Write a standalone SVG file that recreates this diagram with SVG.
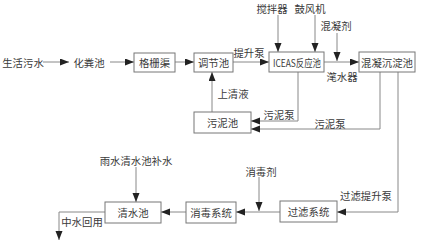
<svg xmlns="http://www.w3.org/2000/svg" width="422" height="247" viewBox="0 0 422 247">
<defs>
<style>
text{font-family:"Noto Sans CJK SC","Liberation Sans",sans-serif;font-size:10.4px;fill:#3a3a3a;text-anchor:middle;dominant-baseline:central}
.box{fill:#fff;stroke:#777;stroke-width:1}
.ln{fill:none;stroke:#888;stroke-width:1;marker-end:url(#ah)}
</style>
<marker id="ah" markerUnits="userSpaceOnUse" markerWidth="10" markerHeight="8" refX="9" refY="3.5" orient="auto">
<path d="M0,0 L9,3.5 L0,7 z" fill="#222"/>
</marker>
</defs>
<rect width="422" height="247" fill="#fff"/>
<g id="connectors">
<path class="ln" d="M43,62 L69,62"/>
<path class="ln" d="M110,62 L134,62"/>
<path class="ln" d="M175,62 L194,62"/>
<path class="ln" d="M233,62 L269,62"/>
<path class="ln" d="M278,15 L278,52"/>
<path class="ln" d="M315,15 L315,52"/>
<path class="ln" d="M324,62 L359,62"/>
<path class="ln" d="M337,33 L337,61"/>
<path class="ln" d="M298,72 L298,121 L251,121"/>
<path class="ln" d="M380,72 L380,129 L251,129"/>
<path class="ln" d="M212,112 L212,72"/>
<path class="ln" d="M398,72 L398,212 L337,212"/>
<path class="ln" d="M280,212 L236,212"/>
<path class="ln" d="M259,177 L259,211"/>
<path class="ln" d="M186,212 L161,212"/>
<path class="ln" d="M136,167 L136,202"/>
<path class="ln" d="M105,212 L59,212 L59,240"/>
<text x="249" y="52">提升泵</text>
<text x="342" y="76">滗水器</text>
<text x="233" y="93">上清液</text>
<text x="279" y="114">污泥泵</text>
<text x="330" y="123">污泥泵</text>
<text x="366" y="195">过滤提升泵</text>
<text x="82" y="221">中水回用</text>
</g>
<g id="n-shwater"><text x="23" y="62">生活污水</text></g>
<g id="n-hfc"><text x="89" y="62">化粪池</text></g>
<g id="n-gsq"><rect class="box" x="134" y="53" width="41" height="19"/><text x="154.5" y="62.5">格栅渠</text></g>
<g id="n-tjc"><rect class="box" x="194" y="53" width="39" height="19"/><text x="213.5" y="62.5">调节池</text></g>
<g id="n-jbq"><text x="272" y="8">搅拌器</text></g>
<g id="n-gfj"><text x="310" y="8">鼓风机</text></g>
<g id="n-hnj"><text x="336" y="25">混凝剂</text></g>
<g id="n-iceas"><rect class="box" x="269" y="52" width="55" height="20"/><text x="297" y="62.5" textLength="48" lengthAdjust="spacingAndGlyphs">ICEAS反应池</text></g>
<g id="n-hncdc"><rect class="box" x="359" y="52" width="56" height="20"/><text x="387" y="62.5">混凝沉淀池</text></g>
<g id="n-wnc"><rect class="box" x="194" y="112" width="57" height="21"/><text x="222.5" y="122.5">污泥池</text></g>
<g id="n-xdj"><text x="261" y="171">消毒剂</text></g>
<g id="n-glxt"><rect class="box" x="280" y="201" width="57" height="21"/><text x="308.5" y="211.5">过滤系统</text></g>
<g id="n-xdxt"><rect class="box" x="186" y="202" width="50" height="21"/><text x="211" y="212.5">消毒系统</text></g>
<g id="n-ysqsc"><text x="136" y="160">雨水清水池补水</text></g>
<g id="n-qsc"><rect class="box" x="105" y="202" width="56" height="21"/><text x="133" y="212.5">清水池</text></g>
</svg>
